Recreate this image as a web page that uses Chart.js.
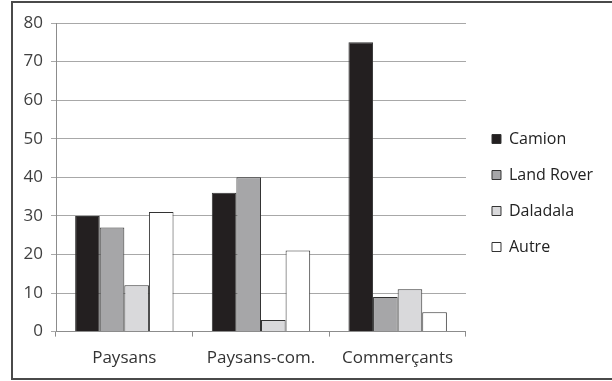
<!DOCTYPE html>
<html>
<head>
<meta charset="utf-8">
<script src="https://cdn.jsdelivr.net/npm/chart.js@4"></script>
<style>
	body { margin: 0; background: #fff; }
	#wrap { width: 612px; height: 381px; position: relative; }
</style>
</head>
<body>
<div id="wrap"><canvas id="transportChart" width="612" height="381"></canvas></div>
<script>
// - - - - - data - - - - - //
const categories = ['Paysans', 'Paysans-com.', 'Commerçants'];
const camion = [30, 36, 75];
const landRover = [27, 40, 9];
const daladala = [12, 3, 11];
const autre = [31, 21, 5];
const yTicks = [0, 10, 20, 30, 40, 50, 60, 70, 80];

const font = { family: 'Open Sans', size: 17 };

// frame around the picture (left, top, bottom edges)
const framePlugin = {
	id : 'frame',
	afterDraw(chart) {
		const ctx = chart.ctx;
		ctx.save();
		ctx.strokeStyle = '#4a4a4a';
		ctx.lineWidth = 2;
		ctx.beginPath();
		ctx.moveTo(612, 2);
		ctx.lineTo(12, 2);
		ctx.lineTo(12, 379);
		ctx.lineTo(612, 379);
		ctx.stroke();
		ctx.restore();
	}
};

// give the legend a wider gap to the plot, and lift it a bit
const legendShift = { dx: 6, dy: -8 };
const legendNudge = {
	id : 'legendNudge',
	afterInit(chart) {
		const lg = chart.legend;
		const fit = lg.fit;
		lg.fit = function () {
			fit.call(this);
			this.width += legendShift.dx;
		};
	},
	afterLayout(chart) {
		const lg = chart.legend;
		lg.left += legendShift.dx;
		lg.top += legendShift.dy;
		lg.bottom += legendShift.dy;
	}
};

const bar = (label, data, color) => ({
	label           : label,
	data            : data,
	backgroundColor : color,
	borderColor     : '#333333',
	borderWidth     : 1,
	borderSkipped   : 'bottom'
});

let transportChart = new Chart(document.getElementById('transportChart'), {
	type    : 'bar',
	data    : {
		labels   : categories,
		datasets : [
			bar('Camion', camion, '#231f20'),
			bar('Land Rover', landRover, '#a6a6a8'),
			bar('Daladala', daladala, '#d9d9db'),
			bar('Autre', autre, '#ffffff')
		]
	},
	options : {
		responsive : false,
		animation  : false,
		datasets   : { bar: { barPercentage: 1, categoryPercentage: 0.72 } },
		layout     : { padding: { left: 12, top: 23, right: 9, bottom: 2 } },
		plugins    : {
			tooltip : { enabled: false },
			legend  : {
				position : 'right',
				labels   : {
					font      : { family: 'Open Sans', size: 16 },
					color     : '#222',
					boxWidth  : 9,
					boxHeight : 9,
					padding   : 20
				}
			}
		},
		scales     : {
			x : {
				grid   : { display: true, drawOnChartArea: false, offset: true, tickLength: 5, color: '#8c8c8c' },
				border : { color: '#8c8c8c' },
				ticks  : { font: font, color: '#333', padding: 11 }
			},
			y : {
				min     : 0,
				max     : 80,
				afterFit : (s) => { s.width = 44; },
				afterBuildTicks : (s) => { s.ticks = yTicks.map((v) => ({ value: v })); },
				grid    : { color: '#a8a8a8', tickLength: 5 },
				border  : { color: '#8c8c8c' },
				ticks   : { font: font, color: '#404040', padding: 8 }
			}
		}
	},
	plugins : [ framePlugin, legendNudge ]
});
</script>
</body>
</html>
